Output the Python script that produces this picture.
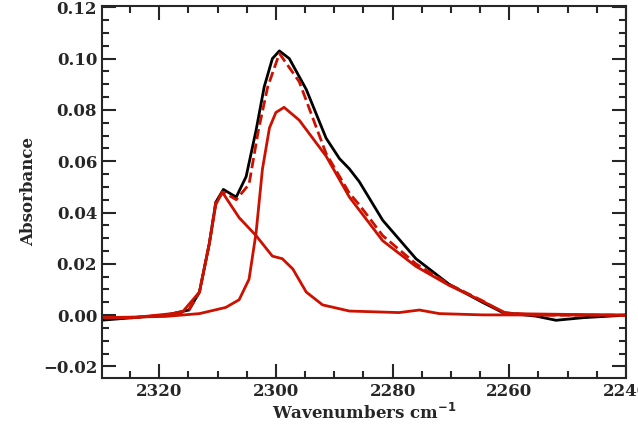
import numpy as np, pandas as pd, seaborn as sns, matplotlib
matplotlib.use("Agg")
import matplotlib.pyplot as plt
from matplotlib.ticker import MultipleLocator

wn_total = [2330.0,2324.6,2318.9,2314.9,2313.1,2311.4,2310.3,2309.0,2306.8,2305.1,2303.4,2302.0,2300.6,2299.4,2297.7,2294.8,2291.4,2289.1,2287.4,2285.7,2281.7,2276.0,2270.3,2264.6,2261.1,2255.4,2252.0,2247.4,2240.0]
abs_total = [-0.002,-0.001,0.000,0.002,0.009,0.028,0.044,0.049,0.046,0.054,0.072,0.089,0.100,0.103,0.100,0.088,0.069,0.061,0.057,0.052,0.037,0.022,0.012,0.005,0.001,-0.0004,-0.002,-0.001,0.000]
wn_fit = [2330.0,2324.6,2318.9,2314.9,2313.1,2311.4,2310.3,2309.0,2306.8,2304.6,2303.0,2301.4,2299.4,2296.0,2291.4,2287.4,2285.7,2281.7,2276.0,2270.3,2264.6,2261.1,2255.4,2240.0]
abs_fit = [-0.001,-0.001,0.000,0.002,0.009,0.028,0.044,0.048,0.045,0.051,0.072,0.089,0.102,0.091,0.063,0.0475,0.043,0.031,0.020,0.012,0.0056,0.001,0.000,0.000]
wn_p1 = [2330.0,2324.6,2316.1,2313.1,2311.4,2310.3,2309.2,2306.3,2303.4,2300.6,2298.9,2297.1,2294.8,2292.0,2287.4,2278.9,2275.4,2272.0,2264.6,2240.0]
abs_p1 = [-0.001,-0.001,0.001,0.009,0.028,0.043,0.048,0.038,0.031,0.023,0.022,0.018,0.009,0.004,0.0016,0.001,0.002,0.0006,0.0001,0.000]
wn_p2 = [2330.0,2318.9,2313.1,2308.6,2306.3,2304.6,2303.4,2302.3,2301.1,2300.0,2298.6,2296.0,2291.4,2287.4,2281.7,2276.0,2270.3,2264.6,2260.4,2240.0]
abs_p2 = [-0.001,-0.0005,0.0006,0.003,0.006,0.014,0.032,0.057,0.073,0.079,0.081,0.076,0.062,0.046,0.029,0.019,0.0116,0.0054,0.0006,0.000]

sns.set_style("ticks")
plt.rcParams['font.family'] = ['DejaVu Serif']
plt.rcParams['font.weight'] = 'bold'
fig = plt.figure(figsize=(6.38, 4.33), dpi=100)
ax = fig.add_axes([102/638, 55/433, 524/638, 372/433])
red = "#cc1100"
kw = dict(sort=False, estimator=None)
sns.lineplot(x=wn_total, y=abs_total, ax=ax, color="black", lw=2, **kw)
sns.lineplot(x=wn_fit, y=abs_fit, ax=ax, color=red, lw=2, ls="--", **kw)
sns.lineplot(x=wn_p1, y=abs_p1, ax=ax, color=red, lw=2, **kw)
sns.lineplot(x=wn_p2, y=abs_p2, ax=ax, color=red, lw=2, **kw)
ax.set_xlim(2329.8, 2240.0)
ax.set_ylim(-0.0245, 0.1205)
ax.xaxis.set_major_locator(MultipleLocator(20))
ax.xaxis.set_minor_locator(MultipleLocator(5))
ax.yaxis.set_major_locator(MultipleLocator(0.02))
ax.yaxis.set_minor_locator(MultipleLocator(0.005))
ax.yaxis.set_major_formatter(matplotlib.ticker.FuncFormatter(lambda v, p: f"{v:.2f}".replace("-", "\u2212")))
ax.tick_params(which="both", direction="in", top=True, right=True, labelsize=12, width=1.5)
ax.tick_params(which="major", length=10)
ax.tick_params(which="minor", length=5)
for s in ax.spines.values():
    s.set_linewidth(1.5)
ax.set_xlabel("Wavenumbers cm$^{-1}$", fontsize=12, fontweight="bold", labelpad=2)
ax.set_ylabel("Absorbance", fontsize=12, fontweight="bold")
fig.savefig("out.png", dpi=100)
